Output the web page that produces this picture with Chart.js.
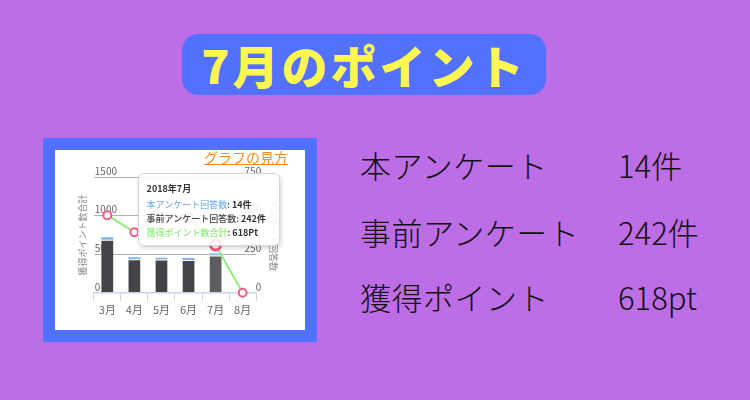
<!DOCTYPE html>
<html lang="ja">
<head>
<meta charset="utf-8">
<script src="https://cdn.jsdelivr.net/npm/chart.js@4/dist/chart.umd.min.js"></script>
<style>
  html, body { margin: 0; padding: 0; }
  body {
    width: 750px; height: 400px; overflow: hidden; position: relative;
    background: #bd6de6;
    font-family: "Noto Sans CJK JP", "Noto Sans", sans-serif;
  }
  #titleBox {
    position: absolute; left: 182px; top: 34px; width: 364px; height: 61px;
    background: #5271ff; border-radius: 16px;
    color: #fff652; font-size: 46px; font-weight: 900; letter-spacing: 3px;
    line-height: 61px; text-align: center;
  }
  #frame {
    position: absolute; left: 43px; top: 138px; width: 250px; height: 180px;
    border: 12px solid #5271ff; background: #fff;
  }
  #chartBox { position: absolute; left: 0; top: 0; width: 250px; height: 180px; }
  #mixChart { display: block; width: 250px; height: 180px; }
  #howTo {
    position: absolute; right: 17px; top: -1px;
    color: #ff8a1f; font-size: 14px; text-decoration: underline; line-height: 17px;
  }
  #tip {
    position: absolute; width: 142px; height: 73px; box-sizing: border-box;
    padding: 7px 8px; background: rgba(255,255,255,0.88);
    border: 1px solid #d6d6d6; border-radius: 6px;
    box-shadow: 1px 2px 4px rgba(0,0,0,0.18);
    font-size: 9px; color: #333; pointer-events: none; opacity: 0;
  }
  #tip .head { font-weight: bold; line-height: 16px; margin-bottom: 1px; }
  #tip .row { line-height: 14px; white-space: nowrap; font-weight: 500; }
  #tip .row b { color: #333; }
  .info {
    position: absolute; left: 360px; font-size: 31px; color: #111; line-height: 36px;
    letter-spacing: 0.5px; font-weight: 300;
  }
  .val { position: absolute; left: 618px; font-size: 31px; color: #111; line-height: 36px; font-weight: 300; }
</style>
</head>
<body>
<div id="titleBox">7月のポイント</div>
<div id="frame">
  <div id="chartBox"><canvas id="mixChart" width="250" height="180"></canvas></div>
  <div id="howTo">グラフの見方</div>
  <div id="tip"></div>
</div>
<div class="info" style="top:147px">本アンケート</div>
<div class="val" style="top:147px">14件</div>
<div class="info" style="top:214px">事前アンケート</div>
<div class="val" style="top:214px">242件</div>
<div class="info" style="top:279px">獲得ポイント</div>
<div class="val" style="top:279px">618pt</div>

<script>
const months = ['3月', '4月', '5月', '6月', '7月', '8月'];
const preSurvey = [344, 218, 215, 213, 242, 0];   // 事前アンケート回答数
const mainSurvey = [15, 12, 12, 12, 14, 0];       // 本アンケート回答数
const totalPoints = [1005, 785, 985, 975, 618, 0]; // 獲得ポイント数合計
const pointTicks = [0, 500, 1000, 1500];
const answerTicks = [0, 250, 500, 750];
const tipYear = '2018年';
const tipUnits = ['件', '件', 'Pt'];
const activeMonth = 4;

function externalTooltip(context) {
    const chart = context.chart;
    const tooltip = context.tooltip;
    const el = document.getElementById('tip');
    if (tooltip.opacity === 0 || !tooltip.dataPoints || !tooltip.dataPoints.length) {
        el.style.opacity = 0;
        return;
    }
    const idx = tooltip.dataPoints[0].dataIndex;
    const order = [1, 0, 2];  // 本, 事前, 獲得
    let html = '<div class="head">' + tipYear + months[idx] + '</div>';
    order.forEach(function(d) {
        const ds = chart.data.datasets[d];
        const color = ds.type === 'line' ? ds.borderColor : ds.backgroundColor;
        html += '<div class="row"><span style="color:' + color + '">' + ds.label + '</span>: <b>' +
            ds.data[idx] + tipUnits[order.indexOf(d)] + '</b></div>';
    });
    el.innerHTML = html;
    const pt = chart.getDatasetMeta(2).data[idx];
    el.style.left = (pt.x - 78) + 'px';
    el.style.top = (pt.y - 72) + 'px';
    el.style.opacity = 1;
}

document.addEventListener('DOMContentLoaded', function() {
    const ctx = document.getElementById('mixChart').getContext('2d');
    const tickFont = { family: '"Noto Sans CJK JP", sans-serif', size: 10 };
    const titleFont = { family: '"Noto Sans CJK JP", sans-serif', size: 9 };

    const chart = new Chart(ctx, {
        type: 'bar',
        data: {
            labels: months,
            datasets: [{
                label: '事前アンケート回答数',
                data: preSurvey,
                yAxisID: 'y1',
                stack: 'answers',
                backgroundColor: '#434348',
                hoverBackgroundColor: '#5c5c61',
                borderColor: '#ffffff',
                hoverBorderColor: '#ffffff',
                borderWidth: { top: 1, left: 0, right: 0, bottom: 0 },
                borderSkipped: false,
                barPercentage: 0.45,
                categoryPercentage: 1,
                order: 2
            }, {
                label: '本アンケート回答数',
                data: mainSurvey,
                yAxisID: 'y1',
                stack: 'answers',
                backgroundColor: '#7cb5ec',
                hoverBackgroundColor: '#8fc3f2',
                borderWidth: 0,
                barPercentage: 0.45,
                categoryPercentage: 1,
                order: 2
            }, {
                type: 'line',
                label: '獲得ポイント数合計',
                data: totalPoints,
                yAxisID: 'y',
                borderColor: '#90ed7d',
                borderWidth: 2,
                tension: 0,
                pointRadius: 4,
                pointBorderWidth: 2,
                pointBorderColor: '#f15c80',
                pointBackgroundColor: '#ffffff',
                pointHoverRadius: 5,
                pointHoverBorderWidth: 3,
                pointHoverBorderColor: '#f15c80',
                pointHoverBackgroundColor: '#ffffff',
                clip: false,
                order: 1
            }]
        },
        options: {
            responsive: false,
            animation: false,
            events: [],
            layout: { padding: { left: 18, right: 22, top: 27, bottom: 12 } },
            plugins: {
                legend: { display: false },
                tooltip: { enabled: false, external: externalTooltip }
            },
            scales: {
                x: {
                    stacked: true,
                    grid: {
                        offset: true,
                        drawOnChartArea: false,
                        drawTicks: true,
                        tickLength: 8,
                        color: '#ccd6eb'
                    },
                    border: { color: '#ccd6eb', width: 1.5 },
                    ticks: {
                        color: '#666666',
                        padding: 2,
                        font: { family: '"Noto Sans CJK JP", sans-serif', size: 11 }
                    }
                },
                y: {
                    position: 'left',
                    min: 0,
                    max: pointTicks[pointTicks.length - 1],
                    afterBuildTicks: function(axis) {
                        axis.ticks = pointTicks.map(v => ({ value: v }));
                    },
                    grid: {
                        drawTicks: false,
                        color: c => (c.tick && c.tick.value === 0) ? 'rgba(0,0,0,0)' : '#b0b0b0'
                    },
                    border: { display: false },
                    ticks: {
                        mirror: true,
                        padding: 1,
                        labelOffset: -6,
                        color: '#666666',
                        font: tickFont,
                        callback: v => String(v)
                    },
                    title: {
                        display: true,
                        text: '獲得ポイント数合計',
                        color: '#888888',
                        font: titleFont
                    }
                },
                y1: {
                    position: 'right',
                    stacked: true,
                    min: 0,
                    max: answerTicks[answerTicks.length - 1],
                    afterBuildTicks: function(axis) {
                        axis.ticks = answerTicks.map(v => ({ value: v }));
                    },
                    grid: { drawOnChartArea: false, drawTicks: false },
                    border: { display: false },
                    ticks: {
                        mirror: true,
                        padding: 5,
                        labelOffset: -6,
                        color: '#666666',
                        font: tickFont,
                        callback: v => String(v)
                    },
                    title: {
                        display: true,
                        text: 'アンケート回答数',
                        color: '#888888',
                        font: titleFont,
                        padding: { top: 4, bottom: 2 }
                    }
                }
            }
        }
    });

    const active = [0, 1, 2].map(d => ({ datasetIndex: d, index: activeMonth }));
    chart.setActiveElements(active);
    chart.update();
    chart.tooltip.setActiveElements(active, { x: 0, y: 0 });
    chart.draw();
});
</script>
</body>
</html>
